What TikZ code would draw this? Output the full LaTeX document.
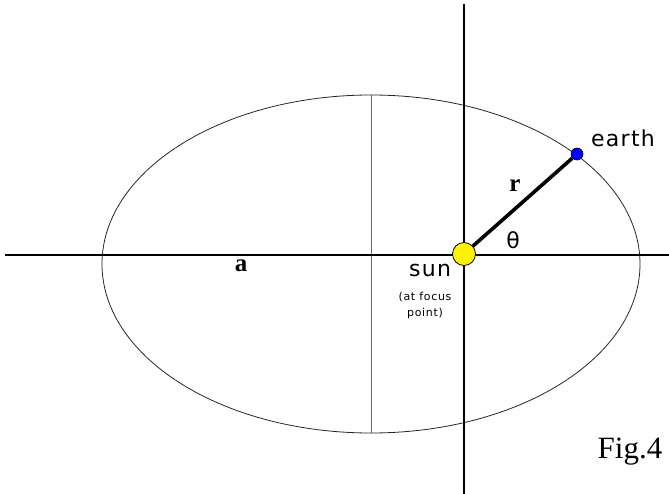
\documentclass[tikz,border=0pt]{standalone}
\usepackage{fontspec}
\setmainfont{Liberation Serif}
\newfontfamily\labfont[LetterSpace=6]{DejaVu Sans}
\newfontfamily\thetafont{DejaVu Sans}
\begin{document}
\begin{tikzpicture}[x=1pt,y=-1pt,
  axis/.style={line width=1.4pt,black},
  thin/.style={line width=0.7pt,black!60},
  orbit/.style={line width=0.8pt,black!85},
  lab/.style={font=\labfont\fontsize{22}{24}\selectfont, inner sep=0pt},
  small/.style={font=\labfont\fontsize{11}{16}\selectfont, inner sep=0pt, align=center},
  bold/.style={font=\bfseries\fontsize{25}{27}\selectfont, inner sep=0pt}]
\useasboundingbox (0,0) rectangle (669,494);
\coordinate (O) at (371,264);
\coordinate (hl) at (5,255);
\coordinate (hr) at (669,255);
\coordinate (vt) at (464,4);
\coordinate (vb) at (464,494);
\coordinate (mt) at (371,95);
\coordinate (mb) at (371,433);
\draw[orbit] (O) ellipse [x radius=269, y radius=169];
\draw[thin] (mt) -- (mb);
\draw[axis] (hl) -- (hr);
\draw[axis] (vt) -- (vb);
\node[circle, fill=yellow, draw=black, line width=0.8pt, minimum size=23pt, inner sep=0pt] (sun) at (464,254) {};
\node[circle, fill=blue, draw=black, line width=0.6pt, minimum size=12pt, inner sep=0pt] (earth) at (577,154) {};
\draw[line width=3.6pt] (sun) -- (earth);
\node[lab] (earthlab) at (623,138) {earth};
\node[lab] (sunlab) at (430,270) {sun};
\node[small] (focus) at (425,305) {(at focus\\point)};
\node[font=\thetafont\fontsize{22}{24}\selectfont, inner sep=0pt] (theta) at (513,240) {θ};
\node[bold] (rlab) at (515,186) {r};
\node[bold] (alab) at (241,266) {a};
\node[font=\fontsize{31}{33}\selectfont, inner sep=0pt] (fig) at (630,452) {Fig.4};
\end{tikzpicture}
\end{document}
